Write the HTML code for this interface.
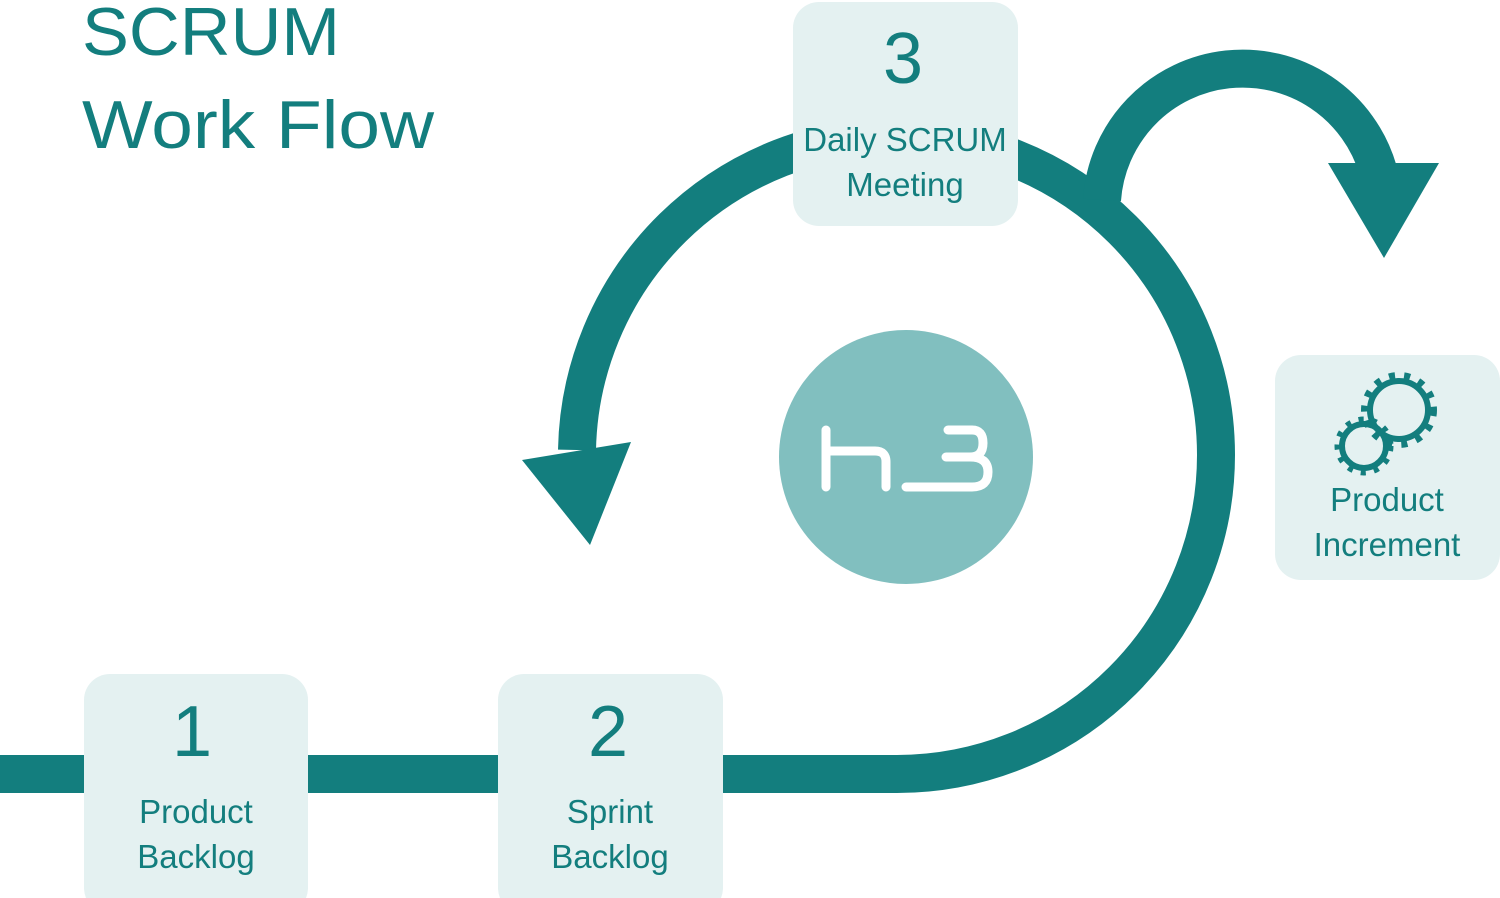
<!DOCTYPE html>
<html><head><style>
html,body{margin:0;padding:0;background:#fff;}
svg{display:block;}
text{font-family:"Liberation Sans",sans-serif;fill:#137e7e;}
</style></head><body>
<svg width="1500" height="898" viewBox="0 0 1500 898" xmlns="http://www.w3.org/2000/svg">
<g fill="none" stroke="#137e7e" stroke-width="38">
  <line x1="0" y1="774" x2="897" y2="774"/>
  <path d="M897 774 A319 319 0 0 0 897 136 A320 320 0 0 0 577 450"/>
  <path d="M1102 200 A141 141 0 0 1 1378 170"/>
</g>
<polygon points="522,460 631,442 590,545" fill="#137e7e"/>
<polygon points="1328,163 1439,163 1384,258" fill="#137e7e"/>
<circle cx="906" cy="457" r="127" fill="#81bfbf"/>
<g fill="none" stroke="#fff" stroke-width="9" stroke-linecap="round" stroke-linejoin="round">
  <path d="M826 430 V487 M826 451 H875 Q886 451 886 462 V487"/>
  <path d="M948 430 H972 Q983 430 983 443 Q983 457 970 457 M906 487 H972 Q988 487 988 472 Q988 457 970 457 H946"/>
</g>
<g fill="#e4f1f1">
  <rect x="84" y="674" width="224" height="240" rx="26"/>
  <rect x="498" y="674" width="225" height="240" rx="26"/>
  <rect x="793" y="2" width="225" height="224" rx="26"/>
  <rect x="1275" y="355" width="225" height="225" rx="26"/>
</g>
<text x="82" y="55" font-size="68" textLength="258" lengthAdjust="spacingAndGlyphs">SCRUM</text>
<text x="82" y="148" font-size="68" textLength="352" lengthAdjust="spacingAndGlyphs">Work Flow</text>
<text x="192" y="756" font-size="72" text-anchor="middle">1</text>
<text x="196" y="823" font-size="33" text-anchor="middle">Product</text>
<text x="196" y="868" font-size="33" text-anchor="middle">Backlog</text>
<text x="608" y="756" font-size="72" text-anchor="middle">2</text>
<text x="610" y="823" font-size="33" text-anchor="middle">Sprint</text>
<text x="610" y="868" font-size="33" text-anchor="middle">Backlog</text>
<text x="903" y="83" font-size="72" text-anchor="middle">3</text>
<text x="905" y="151" font-size="33" text-anchor="middle">Daily SCRUM</text>
<text x="905" y="196" font-size="33" text-anchor="middle">Meeting</text>
<text x="1387" y="511" font-size="33" text-anchor="middle">Product</text>
<text x="1387" y="556" font-size="33" text-anchor="middle">Increment</text>
<g fill="none" stroke="#137e7e">
  <circle cx="1399" cy="410" r="29" stroke-width="6"/>
  <circle cx="1399" cy="410" r="34" stroke-width="8" stroke-dasharray="6 9"/>
  <circle cx="1364" cy="446" r="22" stroke-width="6" />
  <circle cx="1364" cy="446" r="26" stroke-width="7" stroke-dasharray="5 8"/>
</g>
</svg>
</body></html>
